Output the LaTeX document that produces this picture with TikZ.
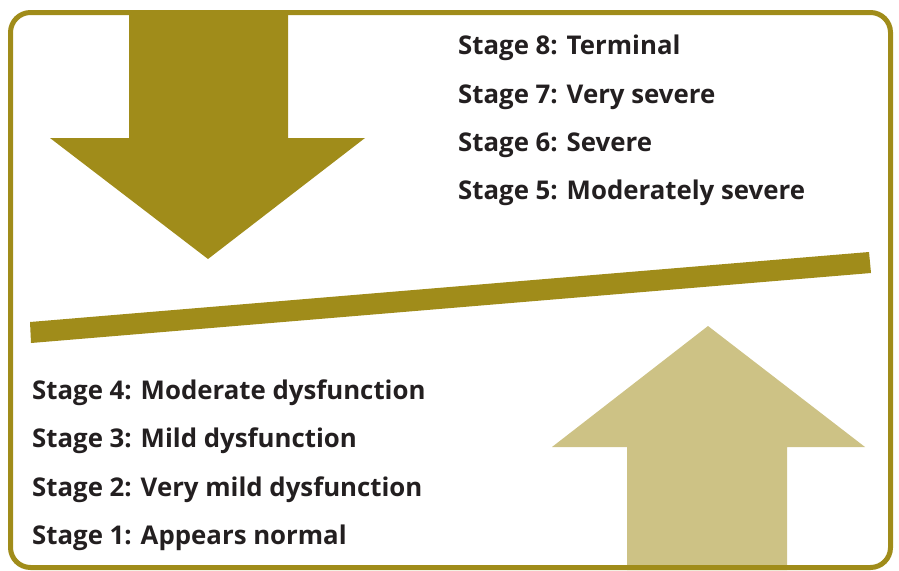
\documentclass[tikz,border=0pt]{standalone}
\usepackage{fontspec}
\setmainfont{Open Sans}
\usetikzlibrary{positioning}

\definecolor{olive}{RGB}{160,140,26}
\definecolor{sand}{RGB}{205,194,133}
\definecolor{ink}{RGB}{35,31,32}

\begin{document}
\begin{tikzpicture}[
                x = 1pt, y = -1pt, % one unit is one pixel, y runs down
                node distance = 22pt, % gap between the stage lines
                every node/.style = {inner sep = 0pt, anchor = north west,
                text height = 20pt, text depth = 6pt,
                font = \fontsize{25.8}{30}\selectfont\bfseries, text = ink}
            ]

            \useasboundingbox (0,0) rectangle (899,570);

            % arrows and the tilted bar
            \fill[olive] (129,12) -- (288,12) -- (288,138) -- (365,138)
            -- (208,259) -- (50,138) -- (129,138) -- cycle;
            \fill[sand] (627,570) -- (627,447) -- (552,447) -- (708,326)
            -- (865,447) -- (787,447) -- (787,570) -- cycle;
            \fill[olive] (30,322) -- (869,252) -- (871,273) -- (31,343) -- cycle;

            % frame
            \draw[olive, line width = 5pt, rounded corners = 20pt]
            (10.5,12.5) rectangle (890.5,567.5);

            % severe stages
            \node (s8) at (458,34.5) {Stage 8: Terminal};
            \node (s7) [below = of s8.south west, anchor = north west]
            {Stage 7: Very severe};
            \node (s6) [below = of s7.south west, anchor = north west]
            {Stage 6: Severe};
            \node (s5) [below = of s6.south west, anchor = north west]
            {Stage 5: Moderately severe};

            % mild stages
            \node (s4) at (32,379) {Stage 4: Moderate dysfunction};
            \node (s3) [below = of s4.south west, anchor = north west]
            {Stage 3: Mild dysfunction};
            \node (s2) [below = of s3.south west, anchor = north west]
            {Stage 2: Very mild dysfunction};
            \node (s1) [below = of s2.south west, anchor = north west]
            {Stage 1: Appears normal};

        \end{tikzpicture}
\end{document}
